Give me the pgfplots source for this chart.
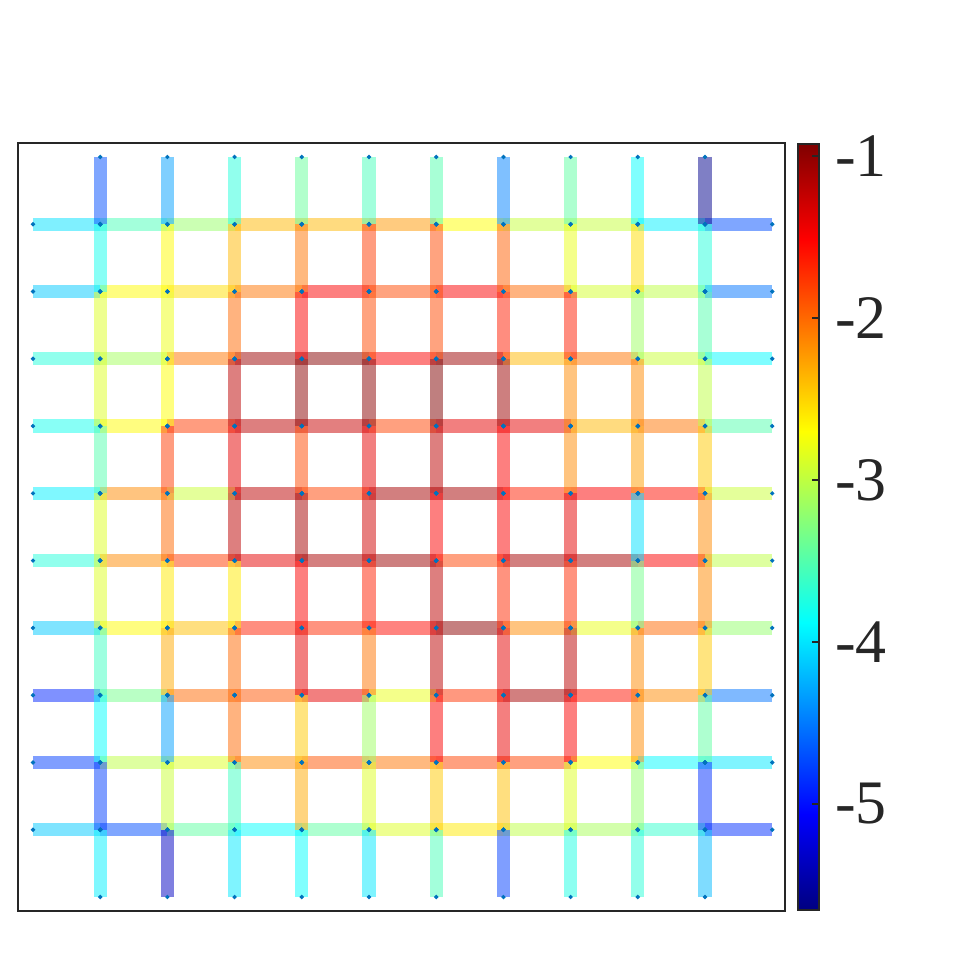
\documentclass[border=0pt]{standalone}
\usepackage{fontspec}
\setmainfont{Liberation Serif}
\usepackage{pgfplots}
\usepackage{pgfplotstable}
\pgfplotsset{compat=1.18}
\definecolor{mdot}{rgb}{0,0.447,0.741}
\definecolor{mframe}{rgb}{0.15,0.15,0.15}

% horizontal edges: left end (x,y), value c
\pgfplotstableread[row sep=\\]{
x y c\\
0 10 -4.02\\ 1 10 -3.55\\ 2 10 -3.18\\ 3 10 -2.37\\ 4 10 -2.37\\ 5 10 -2.22\\ 6 10 -2.70\\ 7 10 -2.97\\ 8 10 -2.97\\ 9 10 -3.94\\ 10 10 -4.70\\
0 9 -4.13\\ 1 9 -2.68\\ 2 9 -2.55\\ 3 9 -2.05\\ 4 9 -1.50\\ 5 9 -1.85\\ 6 9 -1.50\\ 7 9 -2.00\\ 8 9 -2.90\\ 9 9 -3.00\\ 10 9 -4.53\\
0 8 -3.72\\ 1 8 -3.12\\ 2 8 -2.05\\ 3 8 -1.05\\ 4 8 -0.95\\ 5 8 -1.50\\ 6 8 -1.05\\ 7 8 -2.37\\ 8 8 -2.05\\ 9 8 -2.95\\ 10 8 -3.90\\
0 7 -3.80\\ 1 7 -2.68\\ 2 7 -1.78\\ 3 7 -1.20\\ 4 7 -1.26\\ 5 7 -1.82\\ 6 7 -1.40\\ 7 7 -1.40\\ 8 7 -2.37\\ 9 7 -2.05\\ 10 7 -3.50\\
0 6 -3.94\\ 1 6 -2.15\\ 2 6 -2.95\\ 3 6 -1.20\\ 4 6 -1.82\\ 5 6 -1.10\\ 6 6 -1.10\\ 7 6 -1.65\\ 8 6 -1.50\\ 9 6 -1.58\\ 10 6 -2.95\\
0 5 -3.72\\ 1 5 -2.15\\ 2 5 -1.78\\ 3 5 -1.40\\ 4 5 -1.12\\ 5 5 -1.05\\ 6 5 -1.82\\ 7 5 -1.10\\ 8 5 -1.10\\ 9 5 -1.50\\ 10 5 -3.00\\
0 4 -4.13\\ 1 4 -2.68\\ 2 4 -2.40\\ 3 4 -1.65\\ 4 4 -1.70\\ 5 4 -1.55\\ 6 4 -0.98\\ 7 4 -2.15\\ 8 4 -2.80\\ 9 4 -2.00\\ 10 4 -3.20\\
0 3 -4.90\\ 1 3 -3.35\\ 2 3 -2.00\\ 3 3 -1.90\\ 4 3 -1.40\\ 5 3 -2.80\\ 6 3 -1.75\\ 7 3 -1.10\\ 8 3 -1.60\\ 9 3 -2.15\\ 10 3 -4.53\\
0 2 -4.78\\ 1 2 -3.00\\ 2 2 -2.85\\ 3 2 -2.15\\ 4 2 -1.90\\ 5 2 -2.05\\ 6 2 -1.82\\ 7 2 -1.82\\ 8 2 -2.70\\ 9 2 -3.90\\ 10 2 -3.98\\
0 1 -4.13\\ 1 1 -4.70\\ 2 1 -3.45\\ 3 1 -3.87\\ 4 1 -3.45\\ 5 1 -2.85\\ 6 1 -2.60\\ 7 1 -3.00\\ 8 1 -3.10\\ 9 1 -3.65\\ 10 1 -4.85\\
}\hedges

% vertical edges: upper end (x,y), value c
\pgfplotstableread[row sep=\\]{
x y c\\
1 11 -4.70\\ 2 11 -4.32\\ 3 11 -3.72\\ 4 11 -3.41\\ 5 11 -3.56\\ 6 11 -3.50\\ 7 11 -4.46\\ 8 11 -3.45\\ 9 11 -3.87\\ 10 11 -5.60\\
1 10 -3.80\\ 2 10 -2.68\\ 3 10 -2.37\\ 4 10 -2.05\\ 5 10 -1.78\\ 6 10 -1.85\\ 7 10 -1.95\\ 8 10 -2.80\\ 9 10 -2.54\\ 10 10 -3.72\\
1 9 -2.85\\ 2 9 -2.78\\ 3 9 -2.00\\ 4 9 -1.50\\ 5 9 -1.85\\ 6 9 -1.85\\ 7 9 -1.64\\ 8 9 -1.64\\ 9 9 -3.15\\ 10 9 -3.50\\
1 8 -2.85\\ 2 8 -2.70\\ 3 8 -1.20\\ 4 8 -0.98\\ 5 8 -0.98\\ 6 8 -0.92\\ 7 8 -1.05\\ 8 8 -2.15\\ 9 8 -2.15\\ 10 8 -3.00\\
1 7 -3.50\\ 2 7 -1.78\\ 3 7 -1.40\\ 4 7 -1.85\\ 5 7 -1.40\\ 6 7 -1.20\\ 7 7 -1.50\\ 8 7 -2.15\\ 9 7 -2.25\\ 10 7 -2.45\\
1 6 -2.85\\ 2 6 -2.00\\ 3 6 -1.20\\ 4 6 -1.10\\ 5 6 -1.30\\ 6 6 -1.50\\ 7 6 -1.50\\ 8 6 -1.40\\ 9 6 -4.02\\ 10 6 -2.15\\
1 5 -2.85\\ 2 5 -2.60\\ 3 5 -2.60\\ 4 5 -1.50\\ 5 5 -1.65\\ 6 5 -1.20\\ 7 5 -1.70\\ 8 5 -1.70\\ 9 5 -3.35\\ 10 5 -2.15\\
1 4 -3.60\\ 2 4 -2.30\\ 3 4 -2.00\\ 4 4 -1.40\\ 5 4 -2.05\\ 6 4 -1.20\\ 7 4 -1.40\\ 8 4 -1.20\\ 9 4 -2.15\\ 10 4 -2.45\\
1 3 -3.87\\ 2 3 -4.32\\ 3 3 -2.00\\ 4 3 -2.45\\ 5 3 -3.15\\ 6 3 -1.50\\ 7 3 -1.42\\ 8 3 -1.50\\ 9 3 -2.15\\ 10 3 -3.45\\
1 2 -4.78\\ 2 2 -2.95\\ 3 2 -3.60\\ 4 2 -2.30\\ 5 2 -2.85\\ 6 2 -2.45\\ 7 2 -2.40\\ 8 2 -2.85\\ 9 2 -3.20\\ 10 2 -4.85\\
1 1 -3.94\\ 2 1 -5.35\\ 3 1 -3.98\\ 4 1 -3.87\\ 5 1 -3.98\\ 6 1 -3.55\\ 7 1 -4.78\\ 8 1 -3.75\\ 9 1 -3.70\\ 10 1 -4.20\\
}\vedges

\begin{document}
\begin{tikzpicture}
\path[use as bounding box] (-0.225,-0.6125) rectangle (11.775,11.3875);
\begin{axis}[
  scale only axis, width=9.5875cm, height=9.6cm,
  xmin=-0.223, xmax=11.19, ymin=-0.208, ymax=11.208,
  xtick=\empty, ytick=\empty,
  axis line style={mframe, line width=0.5pt},
  colormap/jet,
  point meta min=-5.654, point meta max=-0.926,
  colorbar,
  colorbar style={
    at={(parent axis.north east)}, anchor=north west,
    xshift=-0.1375cm, yshift=-0.0125cm,
    scale only axis, width=0.2625cm, height=9.575cm,
    ytick={-5,-4,-3,-2,-1},
    yticklabels={\textrm{-5},\textrm{-4},\textrm{-3},\textrm{-2},\textrm{-1}},
    ytick pos=right, tick align=inside, major tick length=0.09cm,
    axis line style={mframe, line width=0.5pt},
    ytick style={mframe, line width=0.5pt},
    yticklabel style={font=\fontsize{22}{26}\selectfont, text=mframe, inner xsep=5.5pt},
  },
]
\addplot[point meta=\thisrow{c},
  quiver={u=1, v=0,
    every arrow/.append style={-, draw=mapped color, line width=4.7pt, draw opacity=0.5}}]
  table[x=x, y=y] {\hedges};
\addplot[point meta=\thisrow{c},
  quiver={u=0, v=-1,
    every arrow/.append style={-, draw=mapped color, line width=4.7pt, draw opacity=0.5}}]
  table[x=x, y=y] {\vedges};
% node dots at both ends of every edge
\addplot[only marks, mark=*, mark size=0.55pt, mdot] table[x=x, y=y] {\hedges};
\addplot[only marks, mark=*, mark size=0.55pt, mdot] table[x expr=\thisrow{x}+1, y=y] {\hedges};
\addplot[only marks, mark=*, mark size=0.55pt, mdot] table[x=x, y=y] {\vedges};
\addplot[only marks, mark=*, mark size=0.55pt, mdot] table[x=x, y expr=\thisrow{y}-1] {\vedges};
\end{axis}
\end{tikzpicture}
\end{document}
